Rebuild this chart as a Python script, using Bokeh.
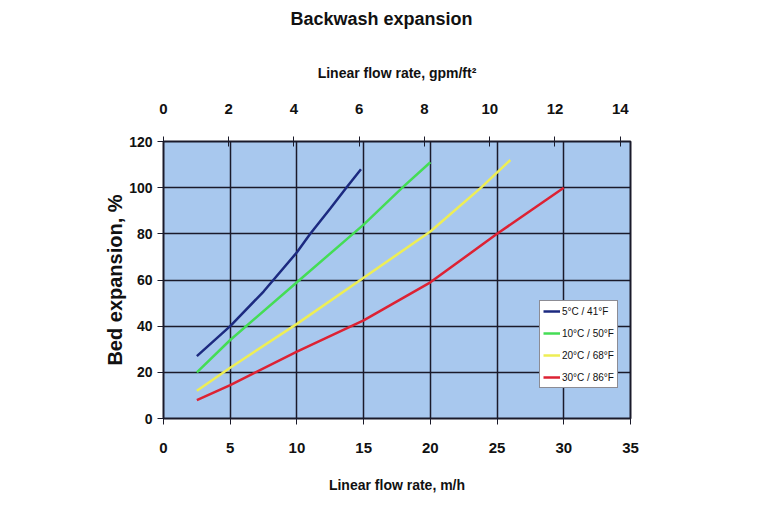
from bokeh.plotting import figure
from bokeh.models import Range1d, LinearAxis, FixedTicker, Legend, LegendItem, Title
from bokeh.embed import file_html
from bokeh.resources import INLINE

# data (m/h, %)
x_5c = [2.5, 5, 7.5, 10, 11, 12.5, 13.7, 14.8]
y_5c = [27, 40, 55, 72, 80, 91, 100, 108]
x_10c = [2.5, 5, 10, 15, 17.9, 20]
y_10c = [20, 34, 59, 84, 100, 111]
x_20c = [2.5, 5, 10, 15, 20, 23.8, 26]
y_20c = [12, 22, 41, 61, 81, 100, 112]
x_30c = [2.5, 5, 10, 15, 20, 25, 30]
y_30c = [8, 14.5, 29, 42.5, 59, 80, 100]
labels = ["5°C / 41°F", "10°C / 50°F", "20°C / 68°F", "30°C / 86°F"]
colors = ["#1c2a80", "#44dd55", "#eeee55", "#dd2233"]
bottom_ticks = [0, 5, 10, 15, 20, 25, 30, 35]
top_ticks = [0, 2, 4, 6, 8, 10, 12, 14]
y_ticks = [0, 20, 40, 60, 80, 100, 120]
MH_PER_GPM = 2.445

FONT = "Liberation Sans"
DARK = "#1a1a2a"
TXT = "#111111"

p = figure(width=752, height=500, x_range=Range1d(0, 35), y_range=Range1d(0, 120),
           output_backend="svg", toolbar_location=None,
           min_border_left=163, min_border_right=122, min_border_top=141, min_border_bottom=82,
           background_fill_color="#A8C8EE", border_fill_color="white",
           outline_line_color=DARK, outline_line_width=2)

p.extra_x_ranges = {"gpm": Range1d(0, 35 / MH_PER_GPM)}

p.xaxis.ticker = FixedTicker(ticks=bottom_ticks)
p.yaxis.ticker = FixedTicker(ticks=y_ticks)
p.xaxis.axis_label = "Linear flow rate, m/h"
p.yaxis.axis_label = "Bed expansion, %"

for ax in [p.xaxis[0], p.yaxis[0]]:
    ax.major_label_text_font = FONT
    ax.major_label_text_font_style = "bold"
    ax.major_label_text_color = TXT
    ax.axis_label_text_font = FONT
    ax.axis_label_text_font_style = "bold"
    ax.axis_label_text_color = TXT
    ax.minor_tick_line_color = None
    ax.major_tick_in = 0
    ax.major_tick_out = 6
    ax.major_tick_line_color = DARK
    ax.axis_line_color = DARK

p.xaxis.major_label_text_font_size = "15px"
p.xaxis.axis_label_text_font_size = "14px"
p.xaxis.major_label_standoff = 18
p.xaxis.axis_label_standoff = 21
p.yaxis.major_label_text_font_size = "14px"
p.yaxis.axis_label_text_font_size = "20px"
p.yaxis.major_label_standoff = 5
p.yaxis.axis_label_standoff = 0

top = LinearAxis(x_range_name="gpm", ticker=FixedTicker(ticks=top_ticks),
                 axis_label="Linear flow rate, gpm/ft²")
top.major_label_text_font = FONT
top.major_label_text_font_style = "bold"
top.major_label_text_font_size = "15px"
top.major_label_text_color = TXT
top.axis_label_text_font = FONT
top.axis_label_text_font_style = "bold"
top.axis_label_text_font_size = "14px"
top.axis_label_text_color = TXT
top.minor_tick_line_color = None
top.major_tick_in = 5
top.major_tick_out = 5
top.major_tick_line_color = DARK
top.axis_line_color = DARK
top.major_label_standoff = 23
top.axis_label_standoff = 20
p.add_layout(top, "above")

# blank spacer between the top axis and the title
spacer = Title(text=" ", text_font_size="1px", standoff=22)
p.add_layout(spacer, "above")

p.title = Title(text="Backwash expansion", align="left", vertical_align="top",
                text_font=FONT, text_font_size="18px", text_font_style="bold",
                text_color=TXT, offset=127, standoff=12)

p.xgrid.grid_line_color = DARK
p.xgrid.grid_line_width = 1.5
p.ygrid.grid_line_color = DARK
p.ygrid.grid_line_width = 1.5

series = [(x_5c, y_5c), (x_10c, y_10c), (x_20c, y_20c), (x_30c, y_30c)]
items = []
for (xs, ys), lab, col in zip(series, labels, colors):
    r = p.line(xs, ys, line_color=col, line_width=2.5)
    items.append(LegendItem(label=lab, renderers=[r]))

legend = Legend(items=items, location=(376, 30), label_text_font=FONT,
                label_text_font_size="10px", label_text_color=TXT,
                background_fill_color="white", background_fill_alpha=1,
                border_line_color=DARK, border_line_width=1.5,
                glyph_width=17, glyph_height=14, spacing=8, padding=3,
                label_standoff=2, margin=0)
p.add_layout(legend, "center")

open("out.html", "w").write(file_html(p, INLINE))
